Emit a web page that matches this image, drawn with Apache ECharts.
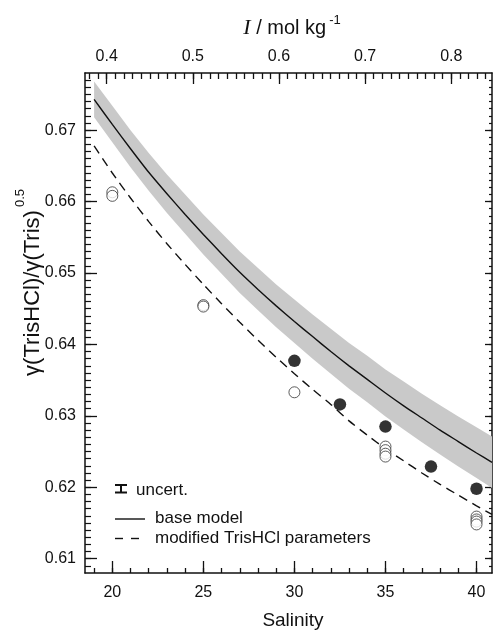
<!DOCTYPE html>
<html>
<head>
<meta charset="utf-8">
<script src="https://cdn.jsdelivr.net/npm/echarts@6/dist/echarts.min.js"></script>
<style>
html,body{margin:0;padding:0;background:#fff;}
#chart{width:497px;height:630px;}
</style>
</head>
<body>
<div id="chart"></div>
<script>
// ---- data ----
var modelS = [19, 20, 21, 22, 23, 24, 25, 26, 27, 28, 29, 30, 31, 32, 33, 34, 35, 36, 37, 38, 39, 40, 40.85];
var baseModel = [0.6743, 0.6708, 0.6674, 0.6641, 0.6611, 0.6582, 0.6554, 0.6527, 0.6501, 0.6477, 0.6454, 0.6432, 0.6411, 0.6390, 0.6370, 0.6351, 0.6332, 0.6314, 0.6297, 0.6280, 0.6264, 0.6248, 0.6235];
var bandUpper = [0.6768, 0.6734, 0.6700, 0.6668, 0.6638, 0.6610, 0.6582, 0.6556, 0.6530, 0.6507, 0.6484, 0.6463, 0.6442, 0.6422, 0.6402, 0.6384, 0.6365, 0.6348, 0.6331, 0.6315, 0.6299, 0.6284, 0.6271];
var bandLower = [0.6718, 0.6683, 0.6648, 0.6615, 0.6584, 0.6555, 0.6526, 0.6499, 0.6472, 0.6448, 0.6424, 0.6402, 0.6380, 0.6359, 0.6338, 0.6319, 0.6299, 0.6281, 0.6263, 0.6246, 0.6229, 0.6213, 0.6199];
var modifiedModel = [0.6678, 0.6640, 0.6605, 0.6572, 0.6541, 0.6512, 0.6484, 0.6457, 0.6431, 0.6406, 0.6382, 0.6359, 0.6337, 0.6316, 0.6293, 0.6273, 0.6254, 0.6237, 0.6220, 0.6204, 0.6189, 0.6174, 0.6162];

var filledS = [30, 32.5, 35, 37.5, 40];
var filledVal = [0.6377, 0.6316, 0.6285, 0.6229, 0.6198];

var openS = [20, 20, 25, 25, 30, 35, 35, 35, 35, 40, 40, 40, 40];
var openVal = [0.6613, 0.6608, 0.6455, 0.6453, 0.6333, 0.6257, 0.6252, 0.6247, 0.6243, 0.6159, 0.6155, 0.6152, 0.6148];

var salinityTicks = [20, 25, 30, 35, 40];
var ionicTicks = [0.4, 0.5, 0.6, 0.7, 0.8];
var yTicks = [0.61, 0.62, 0.63, 0.64, 0.65, 0.66, 0.67];

// ---- helpers ----
function pairs(xs, ys) { return xs.map(function (x, i) { return [x, ys[i]]; }); }
function steps(a, b, st, dec) {
  var out = [], n = Math.round((b - a) / st);
  for (var i = 0; i <= n; i++) out.push(Math.round((a + i * st) * dec) / dec);
  return out;
}
var xMin = 18.5, xMax = 40.85;
var iMin = 0.3748, iMax = 0.8473;
var yMin = 0.608, yMax = 0.678;

var FONT = 'Liberation Sans, Arial, sans-serif';
var black = '#111';

function axisBase(extra) {
  var o = {
    type: 'value', splitLine: { show: false },
    axisLine: { show: false, lineStyle: { color: black, width: 1.5 } },
    axisTick: { show: true, inside: true, lineStyle: { color: black, width: 1.3 } },
    axisLabel: { show: false }
  };
  for (var k in extra) o[k] = extra[k];
  return o;
}

var chart = echarts.init(document.getElementById('chart'), null, { renderer: 'canvas' });

var option = {
  animation: false,
  backgroundColor: '#fff',
  grid: { left: 85, right: 5, top: 73, bottom: 57 },
  xAxis: [
    axisBase({ position: 'bottom', min: xMin, max: xMax,
      axisLine: { show: true, onZero: false, lineStyle: { color: black, width: 1.5 } },
      axisTick: { show: true, inside: true, length: 12, customValues: salinityTicks, lineStyle: { color: black, width: 1.3 } },
      axisLabel: { show: true, customValues: salinityTicks, fontSize: 16, fontFamily: FONT, color: black, margin: 12 } }),
    axisBase({ position: 'bottom', min: xMin, max: xMax,
      axisTick: { show: true, inside: true, length: 5, customValues: steps(19, 40, 1, 1), lineStyle: { color: black, width: 1.3 } } }),
    axisBase({ position: 'top', min: iMin, max: iMax,
      axisLine: { show: true, onZero: false, lineStyle: { color: black, width: 1.5 } },
      axisTick: { show: true, inside: true, length: 11, customValues: ionicTicks, lineStyle: { color: black, width: 1.3 } },
      axisLabel: { show: true, customValues: ionicTicks, fontSize: 16, fontFamily: FONT, color: black, margin: 8,
        formatter: function (v) { return v.toFixed(1); } } }),
    axisBase({ position: 'top', min: iMin, max: iMax,
      axisTick: { show: true, inside: true, length: 6, customValues: steps(0.38, 0.84, 0.01, 100), lineStyle: { color: black, width: 1.3 } } })
  ],
  yAxis: [
    axisBase({ position: 'left', min: yMin, max: yMax,
      axisLine: { show: true, onZero: false, lineStyle: { color: black, width: 1.5 } },
      axisTick: { show: true, inside: true, length: 12, customValues: yTicks, lineStyle: { color: black, width: 1.3 } },
      axisLabel: { show: true, customValues: yTicks, fontSize: 16, fontFamily: FONT, color: black, margin: 9,
        formatter: function (v) { return v.toFixed(2); } } }),
    axisBase({ position: 'left', min: yMin, max: yMax,
      axisTick: { show: true, inside: true, length: 6, customValues: steps(0.609, 0.677, 0.001, 1000), lineStyle: { color: black, width: 1.2 } } }),
    axisBase({ position: 'right', min: yMin, max: yMax,
      axisLine: { show: true, onZero: false, lineStyle: { color: black, width: 1.5 } },
      axisTick: { show: true, inside: true, length: 7, customValues: yTicks, lineStyle: { color: black, width: 1.3 } } }),
    axisBase({ position: 'right', min: yMin, max: yMax,
      axisTick: { show: true, inside: true, length: 3, customValues: steps(0.609, 0.677, 0.001, 1000), lineStyle: { color: black, width: 1.2 } } })
  ],
  series: [
    {
      type: 'custom', name: 'uncertainty band', xAxisIndex: 0, yAxisIndex: 0, z: 1,
      data: [[modelS[0], bandUpper[0]]],
      renderItem: function (params, api) {
        var pts = [];
        for (var i = 0; i < modelS.length; i++) pts.push(api.coord([modelS[i], bandUpper[i]]));
        for (var j = modelS.length - 1; j >= 0; j--) pts.push(api.coord([modelS[j], bandLower[j]]));
        return { type: 'polygon', shape: { points: pts }, style: { fill: '#c9c9c9', stroke: null } };
      },
      silent: true
    },
    {
      type: 'line', name: 'base model', xAxisIndex: 0, yAxisIndex: 0, z: 2,
      data: pairs(modelS, baseModel), showSymbol: false, smooth: 0.2,
      lineStyle: { color: black, width: 1.4 }
    },
    {
      type: 'line', name: 'modified TrisHCl parameters', xAxisIndex: 0, yAxisIndex: 0, z: 2,
      data: pairs(modelS, modifiedModel), showSymbol: false, smooth: 0.2,
      lineStyle: { color: black, width: 1.4, type: [9, 6] }
    },
    {
      type: 'scatter', name: 'open', xAxisIndex: 0, yAxisIndex: 0, z: 3,
      data: pairs(openS, openVal), symbol: 'circle', symbolSize: 11,
      itemStyle: { color: '#fff', borderColor: '#333', borderWidth: 1 }
    },
    {
      type: 'scatter', name: 'filled', xAxisIndex: 0, yAxisIndex: 0, z: 4,
      data: pairs(filledS, filledVal), symbol: 'circle', symbolSize: 12.5,
      itemStyle: { color: '#000', borderColor: '#000', borderWidth: 0 }
    }
  ],
  graphic: [
    // axis titles
    { type: 'text', x: 293, y: 621, style: { text: 'Salinity', fontSize: 19, fontFamily: FONT, fill: black, align: 'center', verticalAlign: 'middle' } },
    { type: 'text', x: 292, y: 28, style: {
        text: '{it|I} / mol kg{sup|-1}', align: 'center', verticalAlign: 'middle', fill: black,
        rich: {
          it: { fontFamily: 'Liberation Serif, Times New Roman, serif', fontStyle: 'italic', fontSize: 22, fill: black },
          sup: { fontFamily: FONT, fontSize: 13, fill: black, verticalAlign: 'top', padding: [0, 0, 16, 3] }
        }, fontSize: 20, fontFamily: FONT } },
    { type: 'text', x: 33, y: 293, rotation: Math.PI / 2, style: {
        text: 'γ(TrisHCl)/γ(Tris)', fontSize: 22, fontFamily: FONT, fill: black, align: 'center', verticalAlign: 'middle' } },
    { type: 'text', x: 20, y: 198, rotation: Math.PI / 2, style: {
        text: '0.5', fontSize: 13, fontFamily: FONT, fill: black, align: 'center', verticalAlign: 'middle' } },
    // legend
    { type: 'line', shape: { x1: 115, y1: 485, x2: 127, y2: 485 }, style: { stroke: black, lineWidth: 2 } },
    { type: 'line', shape: { x1: 115, y1: 492.5, x2: 127, y2: 492.5 }, style: { stroke: black, lineWidth: 2 } },
    { type: 'line', shape: { x1: 121, y1: 485, x2: 121, y2: 492.5 }, style: { stroke: black, lineWidth: 2 } },
    { type: 'text', x: 136, y: 490, style: { text: 'uncert.', fontSize: 17, fontFamily: FONT, fill: black, verticalAlign: 'middle' } },
    { type: 'line', shape: { x1: 115, y1: 519, x2: 145, y2: 519 }, style: { stroke: black, lineWidth: 1.4 } },
    { type: 'text', x: 155, y: 518, style: { text: 'base model', fontSize: 17, fontFamily: FONT, fill: black, verticalAlign: 'middle' } },
    { type: 'line', shape: { x1: 115, y1: 538.5, x2: 123, y2: 538.5 }, style: { stroke: black, lineWidth: 1.4 } },
    { type: 'line', shape: { x1: 131, y1: 538.5, x2: 139, y2: 538.5 }, style: { stroke: black, lineWidth: 1.4 } },
    { type: 'text', x: 155, y: 538, style: { text: 'modified TrisHCl parameters', fontSize: 17, fontFamily: FONT, fill: black, verticalAlign: 'middle' } }
  ]
};
chart.setOption(option);
</script>
</body>
</html>
